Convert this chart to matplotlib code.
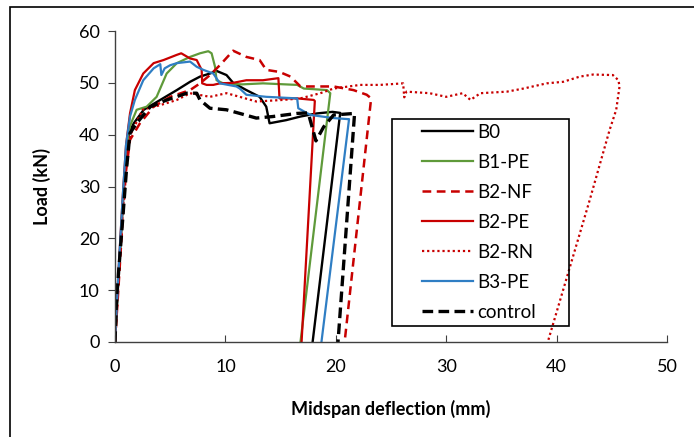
import matplotlib
matplotlib.use('Agg')
import matplotlib.pyplot as plt
import matplotlib.patches as mpatches

plt.rcParams['font.family'] = ['Lato', 'DejaVu Sans']

# midspan deflection (mm) / load (kN)
b0_d = [0, 0.3, 0.7, 1.0, 1.3, 1.7, 2.6, 4.1, 5.6, 6.8, 7.7, 8.6, 9.2, 10.1, 10.7, 11.9, 13.1, 13.7, 14.0, 15.5, 16.8, 18.3, 19.7, 20.4, 17.9]
b0_l = [0, 12, 26, 36, 40.5, 42.2, 44.8, 46.7, 48.6, 50.2, 51.2, 51.8, 52.3, 51.5, 50.0, 48.6, 47.3, 45.4, 42.2, 42.8, 43.5, 44.1, 44.4, 44.2, 0]

b1pe_d = [0, 0.3, 0.7, 1.0, 1.36, 1.96, 2.87, 3.77, 4.68, 5.6, 6.8, 7.7, 8.45, 8.75, 9.06, 9.2, 9.8, 11.5, 13.4, 16.5, 17.1, 19.2, 19.5, 16.8]
b1pe_l = [0, 12, 27, 37, 41.7, 44.8, 45.4, 47.3, 51.8, 53.8, 55.0, 55.7, 56.1, 55.7, 53.1, 50.5, 49.9, 49.7, 49.9, 49.6, 48.9, 48.6, 48.0, 0]

b2nf_d = [0, 0.3, 0.7, 1.0, 1.36, 2.26, 3.5, 5.0, 6.8, 7.7, 8.6, 9.5, 10.7, 11.9, 12.5, 13.1, 13.7, 14.9, 15.9, 16.8, 19.8, 21.6, 22.8, 23.2, 20.8]
b2nf_l = [0, 10, 24, 33, 39, 42.2, 45.4, 47.3, 48.6, 49.9, 51.5, 53.4, 56.2, 55.0, 54.7, 54.4, 52.5, 52.1, 51.2, 49.3, 49.3, 48.6, 47.7, 47.0, 0]

b2pe_d = [0, 0.3, 0.7, 1.0, 1.36, 1.8, 2.56, 3.5, 4.4, 5.6, 6.0, 6.8, 7.4, 7.85, 7.9, 8.3, 8.9, 9.5, 10.7, 11.9, 13.4, 14.8, 14.9, 16.5, 18.0, 18.1, 16.9]
b2pe_l = [0, 13, 28, 38, 44.1, 48.6, 51.8, 53.8, 54.4, 55.4, 55.7, 54.7, 54.4, 52.5, 49.9, 49.6, 49.6, 49.9, 50.0, 50.5, 50.5, 50.9, 47.0, 47.0, 46.7, 46.5, 0]

b2rn_d = [0, 0.3, 0.7, 1.0, 1.4, 2.5, 4.1, 5.6, 6.8, 8.6, 10.1, 11.3, 12.8, 15.2, 16.8, 18.6, 19.8, 22.2, 24.0, 26.1, 26.2, 26.4, 28.5, 30.0, 31.5, 32.2, 33.1, 35.5, 37.0, 39.1, 40.6, 42.1, 43.3, 45.1, 45.6, 45.7, 45.4, 44.8, 44.2, 43.6, 43.0, 39.2]
b2rn_l = [0, 11, 25, 34, 40, 44.8, 45.7, 46.7, 48.0, 47.3, 48.0, 47.3, 46.4, 46.7, 47.0, 48.0, 48.9, 49.6, 49.6, 49.9, 47.2, 48.3, 48.0, 47.3, 48.0, 46.7, 48.0, 48.3, 48.9, 49.9, 50.2, 51.2, 51.6, 51.5, 50.5, 49.3, 44.8, 40.9, 36.4, 31.9, 27.4, 0]

b3pe_d = [0, 0.3, 0.7, 1.0, 1.36, 1.8, 2.56, 3.5, 4.1, 4.2, 4.5, 5.0, 5.6, 6.8, 7.4, 8.0, 8.9, 9.5, 11.0, 11.3, 11.9, 13.7, 16.5, 16.6, 17.7, 19.8, 21.1, 21.2, 18.7]
b3pe_l = [0, 13, 28, 38, 43.5, 46.7, 50.5, 52.8, 53.6, 51.5, 52.8, 53.4, 53.8, 54.1, 53.1, 52.5, 51.8, 49.9, 49.3, 48.9, 47.7, 47.3, 47.0, 45.1, 43.8, 43.2, 43.0, 43.0, 0]

ctrl_d = [0, 0.15, 0.6, 1.06, 1.36, 1.96, 3.2, 4.7, 6.5, 7.4, 7.7, 8.6, 10.1, 11.3, 12.8, 14.3, 16.5, 17.5, 18.2, 18.9, 19.8, 21.7, 20.2]
ctrl_l = [0, 8.7, 21, 33.8, 40.3, 42.2, 45.4, 46.7, 48.0, 48.0, 46.7, 45.1, 44.8, 44.1, 43.2, 43.5, 44.1, 44.2, 38.8, 41.5, 43.8, 44.1, 0]

x_ticks = [0, 10, 20, 30, 40, 50]
y_ticks = [0, 10, 20, 30, 40, 50, 60]

red = '#c80000'
fig = plt.figure(figsize=(6.94, 4.37), dpi=100)
ax = fig.add_axes([115/694, 1-342/437, 552/694, 311/437])

ax.plot(b0_d, b0_l, color='black', lw=1.7, label='B0')
ax.plot(b1pe_d, b1pe_l, color='#5f9a3a', lw=1.6, label='B1-PE')
ax.plot(b2nf_d, b2nf_l, color=red, lw=1.8, dashes=(3.5, 2.2), label='B2-NF')
ax.plot(b2pe_d, b2pe_l, color=red, lw=1.6, label='B2-PE')
ax.plot(b2rn_d, b2rn_l, color=red, lw=1.6, dashes=(1, 1.3), label='B2-RN')
ax.plot(b3pe_d, b3pe_l, color='#2f7ec4', lw=1.6, label='B3-PE')
ax.plot(ctrl_d, ctrl_l, color='black', lw=2.4, dashes=(3.2, 1.6), label='control')

ax.set_xlim(0, 50)
ax.set_ylim(0, 60)
ax.set_xticks(x_ticks)
ax.set_yticks(y_ticks)
ax.spines['top'].set_visible(False)
ax.spines['right'].set_visible(False)
for s in ['left', 'bottom']:
    ax.spines[s].set_color('#404040')
    ax.spines[s].set_linewidth(1.0)
ax.tick_params(axis='x', direction='in', length=5, pad=12, labelsize=13, color='#404040')
ax.tick_params(axis='y', direction='out', length=5, pad=6, labelsize=13, color='#404040')
ax.set_xlabel('Midspan deflection (mm)', fontsize=13, fontweight='bold', labelpad=18)
ax.set_ylabel('Load (kN)', fontsize=13, fontweight='bold', labelpad=20)

# legend frame drawn by hand, entries without frame
box = mpatches.Rectangle(((392-115)/552, (342-326)/311), 177/552, 207/311,
                         transform=ax.transAxes, fill=False,
                         edgecolor='black', lw=1.2, zorder=4)
ax.add_patch(box)
leg = ax.legend(loc='upper left', bbox_to_anchor=((422-115)/552, (342-124)/311),
                frameon=False, fontsize=13.5, handlelength=2.7, handletextpad=0.25,
                labelspacing=0.69, borderpad=0, borderaxespad=0)
leg.set_zorder(5)

# outer frame of the figure
fig.patches.append(mpatches.Rectangle((10/694, -0.2), 1.2, 1.2 - 7/437,
                                      transform=fig.transFigure, fill=False,
                                      edgecolor='black', lw=1.2))

fig.savefig('out.png', dpi=100)
